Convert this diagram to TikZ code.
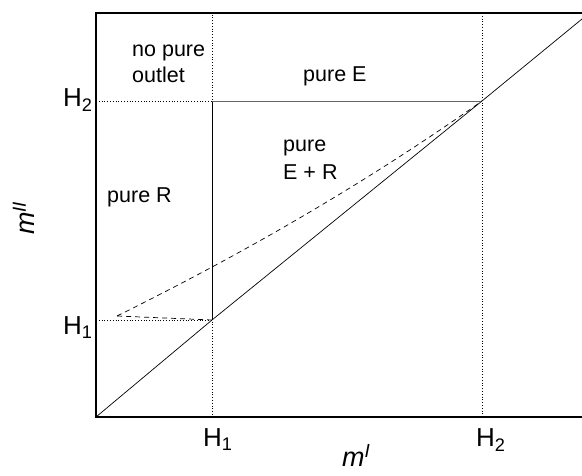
\documentclass[tikz,border=0pt]{standalone}
\usepackage{fontspec}
\setmainfont{Liberation Sans}
\usetikzlibrary{positioning}

\begin{document}
\begin{tikzpicture}[
  x=1pt, y=1pt,
  font=\fontsize{21.5}{26}\selectfont,
  frame/.style={line width=1.6pt},
  thin line/.style={line width=0.7pt},
  guide/.style={line width=0.8pt, dotted},
  bound/.style={line width=0.7pt, dash pattern=on 5pt off 4pt},
  region/.style={align=left, inner sep=0pt, anchor=base west},
  tick/.style={inner sep=0pt, anchor=base west, font=\fontsize{26}{30}\selectfont},
  axis/.style={inner sep=0pt, anchor=base west, font=\fontsize{27}{30}\selectfont}
]
  \useasboundingbox (-96,-59) rectangle (486,417);

  % corner points of the diagram
  \coordinate (O) at (0,0);
  \coordinate (tl) at (0,404);
  \coordinate (tr) at (486,404);
  \coordinate (br) at (486,0);
  \coordinate (A) at (116,97);
  \coordinate (B) at (386,316);
  \coordinate (diagEnd) at (486,398);
  \coordinate (S) at (21,101);
  \coordinate (Ay) at (0,97);
  \coordinate (Ax) at (116,0);
  \coordinate (By) at (0,316);
  \coordinate (Bx) at (386,0);
  \coordinate (Bup) at (386,404);
  \coordinate (Cup) at (116,404);
  \coordinate (C) at (116,316);

  % frame
  \draw[frame] (tr) -- (tl) -- (O) -- (br);

  % dotted guides
  \draw[guide] (Ay) -- (A) -- (Ax);
  \draw[guide] (By) -- (C) -- (Cup);
  \draw[guide] (Bup) -- (Bx);

  % region borders
  \draw[thin line] (O) -- (A) -- (B) -- (diagEnd);
  \draw[thin line] (A) -- (C);
  \draw[thin line, draw=black!60] (C) -- (B);
  \draw[bound] (A) -- (S);
  \draw[bound] (S) .. controls (120,150) and (250,220) .. (B);

  % tick labels
  \node[tick] (h1y) at (-33,82) {H\textsubscript{1}};
  \node[tick] (h2y) at (-33,310) {H\textsubscript{2}};
  \node[tick] (h1x) at (107,-30) {H\textsubscript{1}};
  \node[tick] (h2x) at (380,-30) {H\textsubscript{2}};

  % axis labels
  \node[axis] (mx) at (246,-50) {\textit{m}\textsuperscript{\textit{I}}};
  \node[axis, rotate=90] (my) at (-61,182) {\textit{m}\textsuperscript{\textit{II}}};

  % regions
  \node[region] (nopure) at (36,334) {no pure\\outlet};
  \node[region] (pureE) at (207,335) {pure E};
  \node[region] (pureER) at (187,237) {pure\\[2pt]E + R};
  \node[region] (pureR) at (11,214) {pure R};
\end{tikzpicture}
\end{document}
